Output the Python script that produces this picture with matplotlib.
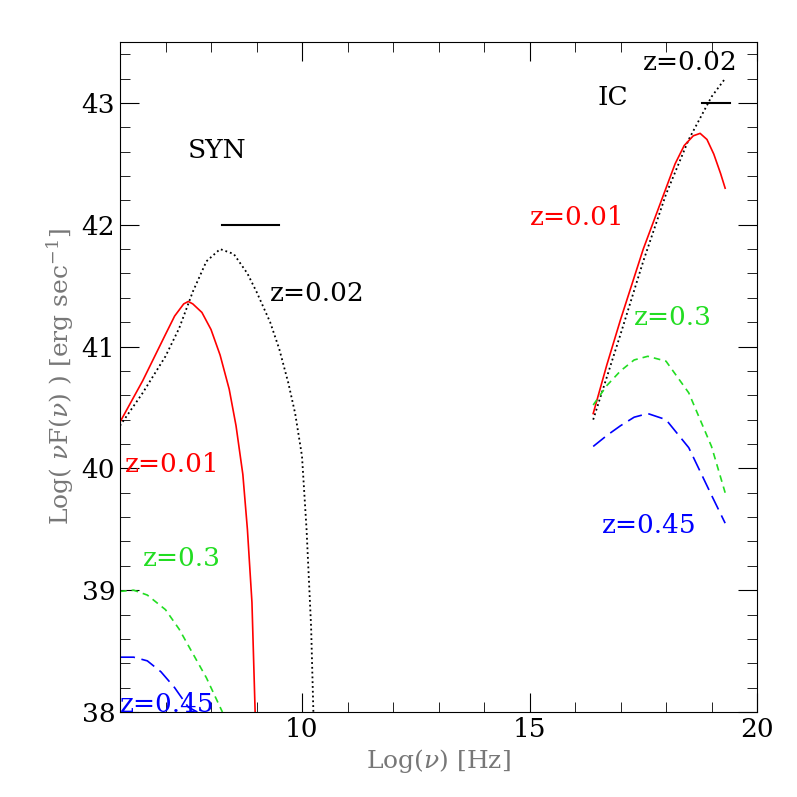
import matplotlib
matplotlib.use("Agg")
import matplotlib.pyplot as plt
from matplotlib.ticker import MultipleLocator

plt.rcParams['font.family'] = 'DejaVu Serif'
plt.rcParams['mathtext.fontset'] = 'dejavuserif'

syn_black_x = [6.0, 6.5, 7.0, 7.3, 7.6, 7.9, 8.2, 8.5, 8.8, 9.0, 9.3, 9.5, 9.7, 9.85, 10.0, 10.1, 10.2, 10.25]
syn_black_y = [40.35, 40.62, 40.92, 41.15, 41.45, 41.7, 41.8, 41.76, 41.6, 41.45, 41.2, 40.98, 40.7, 40.45, 40.1, 39.5, 38.7, 38.0]
syn_red_x = [6.0, 6.5, 7.0, 7.2, 7.4, 7.5, 7.6, 7.8, 8.0, 8.2, 8.4, 8.55, 8.7, 8.8, 8.9, 8.97]
syn_red_y = [40.38, 40.72, 41.1, 41.25, 41.35, 41.37, 41.35, 41.28, 41.14, 40.93, 40.65, 40.35, 39.95, 39.5, 38.9, 38.0]
syn_green_x = [6.0, 6.3, 6.6, 7.0, 7.3, 7.6, 7.9, 8.1, 8.25]
syn_green_y = [38.99, 39.0, 38.96, 38.84, 38.68, 38.48, 38.28, 38.12, 38.0]
syn_blue_x = [6.0, 6.3, 6.6, 6.9, 7.2, 7.5, 7.7]
syn_blue_y = [38.45, 38.45, 38.42, 38.33, 38.2, 38.04, 38.0]
ic_black_x = [16.4, 16.7, 17.0, 17.5, 18.0, 18.5, 19.0, 19.3]
ic_black_y = [40.4, 40.75, 41.1, 41.7, 42.25, 42.7, 43.05, 43.2]
ic_red_x = [16.4, 16.7, 17.0, 17.5, 18.0, 18.2, 18.4, 18.6, 18.75, 18.9, 19.05, 19.2, 19.3]
ic_red_y = [40.45, 40.85, 41.22, 41.8, 42.3, 42.5, 42.65, 42.73, 42.75, 42.7, 42.58, 42.42, 42.3]
ic_green_x = [16.4, 16.7, 17.0, 17.3, 17.6, 18.0, 18.5, 19.0, 19.3]
ic_green_y = [40.52, 40.68, 40.8, 40.89, 40.92, 40.88, 40.62, 40.18, 39.8]
ic_blue_x = [16.4, 16.7, 17.0, 17.3, 17.6, 18.0, 18.5, 19.0, 19.3]
ic_blue_y = [40.18, 40.27, 40.35, 40.42, 40.45, 40.4, 40.17, 39.78, 39.55]

fig = plt.figure(figsize=(7.97, 7.97), dpi=100)
ax = fig.add_axes([120/797, 85/797, 637/797, 670/797])
ax.plot(syn_black_x, syn_black_y, color='black', ls=':', lw=1.3)
ax.plot(syn_red_x, syn_red_y, color='red', lw=1.2)
ax.plot(syn_green_x, syn_green_y, color='#22dd22', ls=(0, (4, 3)), lw=1.2)
ax.plot(syn_blue_x, syn_blue_y, color='blue', ls=(0, (9, 4)), lw=1.2)
ax.plot(ic_black_x, ic_black_y, color='black', ls=':', lw=1.3)
ax.plot(ic_red_x, ic_red_y, color='red', lw=1.2)
ax.plot(ic_green_x, ic_green_y, color='#22dd22', ls=(0, (4, 3)), lw=1.2)
ax.plot(ic_blue_x, ic_blue_y, color='blue', ls=(0, (9, 4)), lw=1.2)
ax.plot([8.25, 9.5], [42, 42], color='black', lw=1.5)
ax.plot([18.8, 19.4], [43, 43], color='black', lw=1.5)

fs = 19
ax.text(7.5, 42.55, 'SYN', fontsize=fs)
ax.text(9.3, 41.37, 'z=0.02', fontsize=fs)
ax.text(6.1, 39.97, 'z=0.01', fontsize=fs, color='red')
ax.text(6.5, 39.2, 'z=0.3', fontsize=fs, color='#22dd22')
ax.text(6.0, 38.0, 'z=0.45', fontsize=fs, color='blue')
ax.text(16.5, 42.98, 'IC', fontsize=fs)
ax.text(17.5, 43.27, 'z=0.02', fontsize=fs)
ax.text(15.0, 42.0, 'z=0.01', fontsize=fs, color='red')
ax.text(17.3, 41.18, 'z=0.3', fontsize=fs, color='#22dd22')
ax.text(16.6, 39.47, 'z=0.45', fontsize=fs, color='blue')

ax.set_xlim(6, 20)
ax.set_ylim(38, 43.5)
ax.xaxis.set_major_locator(MultipleLocator(5))
ax.xaxis.set_minor_locator(MultipleLocator(1))
ax.yaxis.set_major_locator(MultipleLocator(1))
ax.yaxis.set_minor_locator(MultipleLocator(0.2))
ax.tick_params(which='both', direction='in', top=True, right=True, labelsize=19)
ax.tick_params(which='major', length=14)
ax.tick_params(which='minor', length=7)
ax.set_xlabel(r'Log($\nu$) [Hz]', fontsize=18, color='#777777')
ax.set_ylabel(r'Log( $\nu$F($\nu$) ) [erg sec$^{-1}$]', fontsize=18, color='#777777')
fig.savefig('out.png', dpi=100)
